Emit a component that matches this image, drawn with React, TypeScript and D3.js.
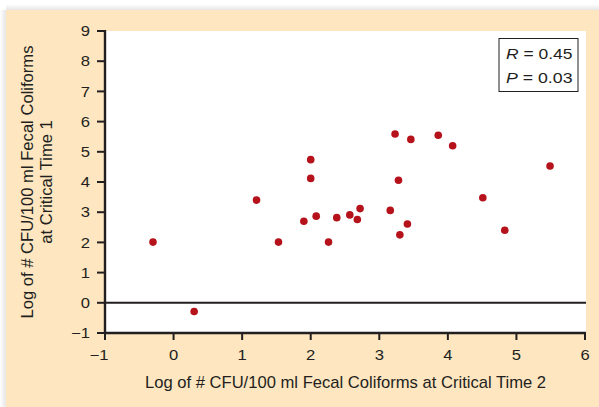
import React from "react";
import * as d3 from "d3";

const xValues = [-0.30, 0.30, 1.21, 1.53, 1.90, 2.00, 2.00, 2.08, 2.26, 2.38, 2.57, 2.68, 2.72, 3.16, 3.23, 3.28, 3.30, 3.41, 3.46, 3.86, 4.07, 4.51, 4.83, 5.49];
const yValues = [2.01, -0.29, 3.40, 2.01, 2.70, 4.74, 4.12, 2.87, 2.01, 2.82, 2.91, 2.76, 3.12, 3.06, 5.59, 4.06, 2.25, 2.61, 5.41, 5.55, 5.20, 3.48, 2.40, 4.53];
const xTicks = [-1, 0, 1, 2, 3, 4, 5, 6];
const yTicks = [-1, 0, 1, 2, 3, 4, 5, 6, 7, 8, 9];
const xTitle = "Log of # CFU/100 ml Fecal Coliforms at Critical Time 2";
const yTitleLines = ["Log of # CFU/100 ml Fecal Coliforms", "at Critical Time 1"];
const statR = "0.45";
const statP = "0.03";

const W = 599;
const H = 407;
const left = 105;
const right = 586;
const top = 31;
const bottom = 333;
const ink = "#231f20";
const font = "'Liberation Sans', Arial, Helvetica, sans-serif";

export default function App() {
  const x = d3.scaleLinear().domain([-1, 6]).range([left, 585]);
  const y = d3.scaleLinear().domain([-1, 9]).range([bottom, top]);
  const fmt = (v: number) => (v < 0 ? "\u2212" + Math.abs(v) : String(v));
  const sx = 1.17;
  return (
    <svg width={W} height={H} style={{ position: "absolute", left: 0, top: 0 }} fontFamily={font}>
      <defs>
        <linearGradient id="shL" x1="0" x2="1" y1="0" y2="0">
          <stop offset="0" stopColor="#ffffff" />
          <stop offset="1" stopColor="#e6e6e6" />
        </linearGradient>
        <linearGradient id="shT" x1="0" x2="0" y1="0" y2="1">
          <stop offset="0" stopColor="#ffffff" />
          <stop offset="1" stopColor="#e6e6e6" />
        </linearGradient>
      </defs>
      <rect x={0} y={0} width={W} height={H} fill="#ffffff" />
      <rect x={0} y={10} width={6} height={H - 10} fill="url(#shL)" />
      <rect x={6} y={4} width={W - 6} height={6} fill="url(#shT)" />
      <rect x={6} y={10} width={W - 6} height={H - 10} fill="#fde6c0" />
      <rect x={left} y={top} width={right - left} height={bottom - top} fill="#ffffff" />
      <line x1={left} x2={right} y1={y(0)} y2={y(0)} stroke={ink} strokeWidth={2} />
      <line x1={left} x2={left} y1={top - 1} y2={bottom + 1} stroke={ink} strokeWidth={2.4} />
      <line x1={left - 1} x2={585 + 1} y1={bottom} y2={bottom} stroke={ink} strokeWidth={2.4} />
      {yTicks.map((t) => (
        <g key={"y" + t}>
          <line x1={left - 8} x2={left} y1={y(t)} y2={y(t)} stroke={ink} strokeWidth={2} />
          <text
            transform={`translate(90, ${y(t)}) scale(${sx}, 1)`}
            dy="0.36em"
            textAnchor="end"
            fontSize={14.2}
            fill={ink}
          >
            {fmt(t)}
          </text>
        </g>
      ))}
      {xTicks.map((t) => (
        <g key={"x" + t}>
          <line x1={x(t)} x2={x(t)} y1={bottom} y2={bottom + 7} stroke={ink} strokeWidth={2} />
          <text
            transform={`translate(${x(t) - (t < 0 ? 6 : 0)}, 360) scale(${sx}, 1)`}
            textAnchor="middle"
            fontSize={14.2}
            fill={ink}
          >
            {fmt(t)}
          </text>
        </g>
      ))}
      <text x={(left + right) / 2} y={388} textAnchor="middle" fontSize={16.6} fill={ink}>
        {xTitle}
      </text>
      <g transform={`translate(33, ${(top + bottom) / 2}) rotate(-90)`}>
        <text x={0} y={0} textAnchor="middle" fontSize={16.6} fill={ink}>
          {yTitleLines[0]}
        </text>
        <text x={0} y={19} textAnchor="middle" fontSize={16.6} fill={ink}>
          {yTitleLines[1]}
        </text>
      </g>
      {xValues.map((v, i) => (
        <circle key={i} cx={x(v)} cy={y(yValues[i])} r={3.8} fill="#b5121b" />
      ))}
      <rect x={499} y={38.5} width={79} height={53} fill="#ffffff" stroke={ink} strokeWidth={1} />
      <text x={506} y={58.7} fontSize={14.8} fill={ink} textLength={66.5} lengthAdjust="spacingAndGlyphs">
        <tspan fontStyle="italic">R</tspan>
        <tspan> = {statR}</tspan>
      </text>
      <text x={506} y={82.7} fontSize={14.8} fill={ink} textLength={66.5} lengthAdjust="spacingAndGlyphs">
        <tspan fontStyle="italic">P</tspan>
        <tspan> = {statP}</tspan>
      </text>
    </svg>
  );
}
